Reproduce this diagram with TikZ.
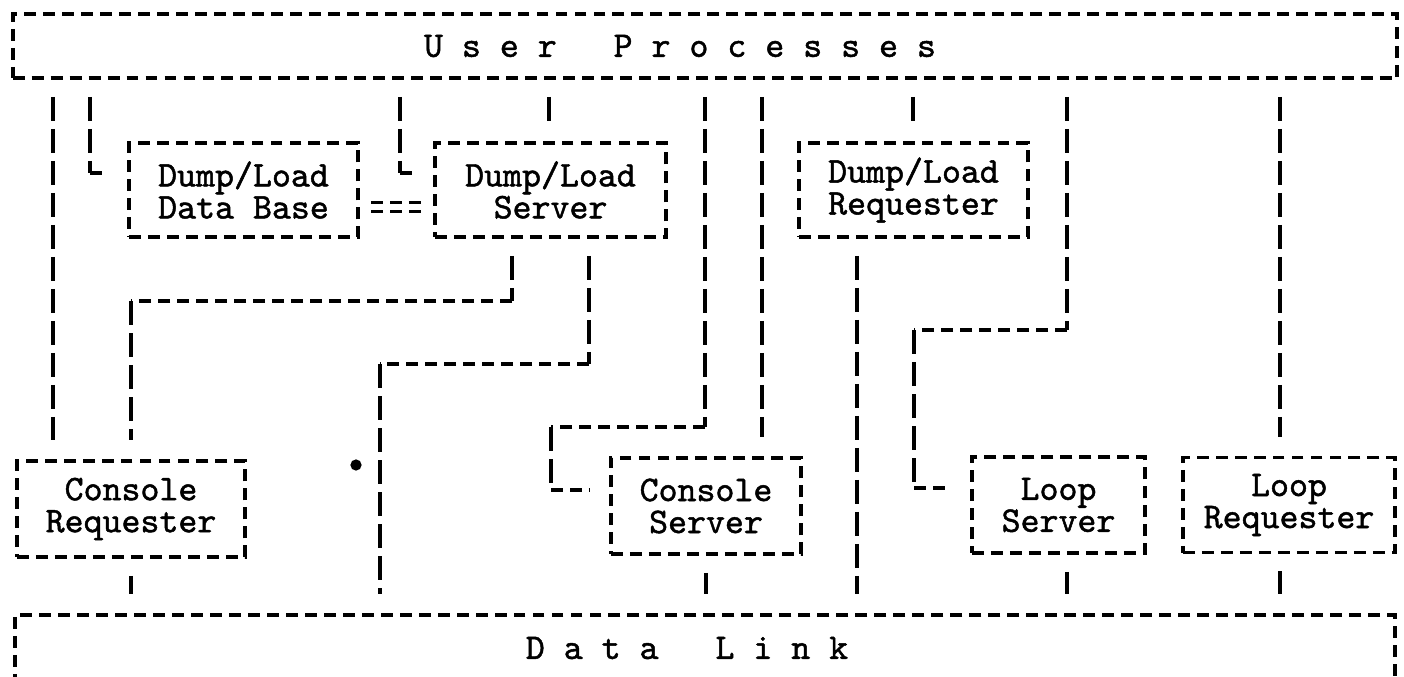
\documentclass[tikz,border=0pt]{standalone}
\usepackage{fontspec}
\newfontfamily\typefont{Latin Modern Mono}[FakeBold=1.3]
\usetikzlibrary{positioning}
\tikzset{%
  box/.style     = {draw, line width=1.1pt, dash pattern=on 3.4pt off 2pt,
    inner sep=0pt, align=center},
  vl/.style      = {line width=1.1pt, dash pattern=on 6.8pt off 2.3pt}, % typed bars
  hl/.style      = {line width=1.1pt, dash pattern=on 3.4pt off 2pt},   % typed dashes
  gapfrom/.style = {shorten <=0.17cm},
  gapto/.style   = {shorten >=0.19cm},
  eqline/.style  = {line width=1pt, double, double distance=1.6pt,
    dash pattern=on 3.4pt off 2pt}
}

\begin{document}
\begin{tikzpicture}[x=0.01cm, y=-0.01cm, font=\typefont\fontsize{10.27}{9.1}\selectfont]
  \useasboundingbox (0,0) rectangle (1404,676);

  \draw node at (705,46) [box, minimum width=13.84cm, minimum height=0.64cm] (up)
    {U s e r\ \ \ P r o c e s s e s\rule{0.5cm}{0pt}};
  \draw node at (243.5,190) [box, minimum width=2.29cm, minimum height=0.94cm] (db) {Dump/Load\\Data Base};
  \draw node at (550.5,190) [box, minimum width=2.31cm, minimum height=0.94cm] (srv) {Dump/Load\\Server};
  \draw node at (913.5,190) [box, minimum width=2.29cm, minimum height=0.94cm] (dlr) {Dump/Load\\Requester};
  \draw node at (131,509) [box, minimum width=2.28cm, minimum height=0.96cm] (cr) {Console\\Requester};
  \draw node at (706,506) [box, minimum width=1.90cm, minimum height=0.96cm] (cs) {Console\\Server};
  \draw node at (1058.5,505) [box, minimum width=1.73cm, minimum height=0.96cm] (ls) {Loop\\Server};
  \draw node at (1289,505) [box, minimum width=2.12cm, minimum height=0.95cm] (lr) {Loop\\Requester};
  \draw node at (705,648) [box, minimum width=13.80cm, minimum height=0.66cm] (dl)
    {D a t a\ \ \ L i n k\rule{0.36cm}{0pt}};

  % columns and corners
  \coordinate (ca) at (53,0);
  \coordinate (cd) at (549,0);
  \coordinate (cf) at (762,0);
  \coordinate (cg) at (913,0);
  \coordinate (ci) at (1280,0);
  \coordinate (cl) at (857,0);
  \coordinate (b1) at (90,173);
  \coordinate (c1) at (400,173);
  \coordinate (e1) at (705,427);
  \coordinate (e2) at (551,427);
  \coordinate (e3) at (551,490);
  \coordinate (h1) at (1067,330);
  \coordinate (h2) at (914,330);
  \coordinate (h3) at (914,488);
  \coordinate (j1) at (512,301);
  \coordinate (j2) at (131,301);
  \coordinate (k1) at (589,364);
  \coordinate (k2) at (380,364);

  % straight lines
  \draw[vl, gapfrom, gapto] (up.south -| ca) -- (cr.north -| ca);
  \draw[vl, gapfrom, gapto] (up.south -| cd) -- (srv.north -| cd);
  \draw[vl, gapfrom, gapto] (up.south -| cf) -- (cs.north -| cf);
  \draw[vl, gapfrom, gapto] (up.south -| cg) -- (dlr.north -| cg);
  \draw[vl, gapfrom, gapto] (up.south -| ci) -- (lr.north -| ci);
  \draw[vl, gapfrom, gapto] (dlr.south -| cl) -- (dl.north -| cl);
  \draw[vl, gapfrom, gapto] (cr.south) -- (dl.north -| cr.south);
  \draw[vl, gapfrom, gapto] (cs.south) -- (dl.north -| cs.south);
  \draw[vl, gapfrom, gapto] (ls.south -| h1) -- (dl.north -| h1);
  \draw[vl, gapfrom, gapto] (lr.south -| ci) -- (dl.north -| ci);

  % bent lines
  \draw[vl, gapfrom] (up.south -| b1) -- (b1);
  \draw[hl, gapto] (b1) -- (db.west |- b1);
  \draw[vl, gapfrom] (up.south -| c1) -- (c1);
  \draw[hl, gapto] (c1) -- (srv.west |- c1);

  \draw[vl, gapfrom] (up.south -| e1) -- (e1);
  \draw[hl] (e1) -- (e2);
  \draw[vl] (e2) -- (e3);
  \draw[hl, gapto] (e3) -- (cs.west |- e3);

  \draw[vl, gapfrom] (up.south -| h1) -- (h1);
  \draw[hl] (h1) -- (h2);
  \draw[vl] (h2) -- (h3);
  \draw[hl, gapto] (h3) -- (ls.west |- h3);

  \draw[vl, gapfrom] (srv.south -| j1) -- (j1);
  \draw[hl] (j1) -- (j2);
  \draw[vl, gapto] (j2) -- (cr.north -| j2);

  \draw[vl, gapfrom] (srv.south -| k1) -- (k1);
  \draw[hl] (k1) -- (k2);
  \draw[vl, gapto] (k2) -- (dl.north -| k2);

  % === between data base and server
  \draw[eqline, shorten <=0.11cm, shorten >=0.1cm] ([yshift=-0.17cm]db.east) -- ([yshift=-0.17cm]srv.west);

  \fill (356,465) circle[radius=1.6pt];

\end{tikzpicture}
\end{document}
